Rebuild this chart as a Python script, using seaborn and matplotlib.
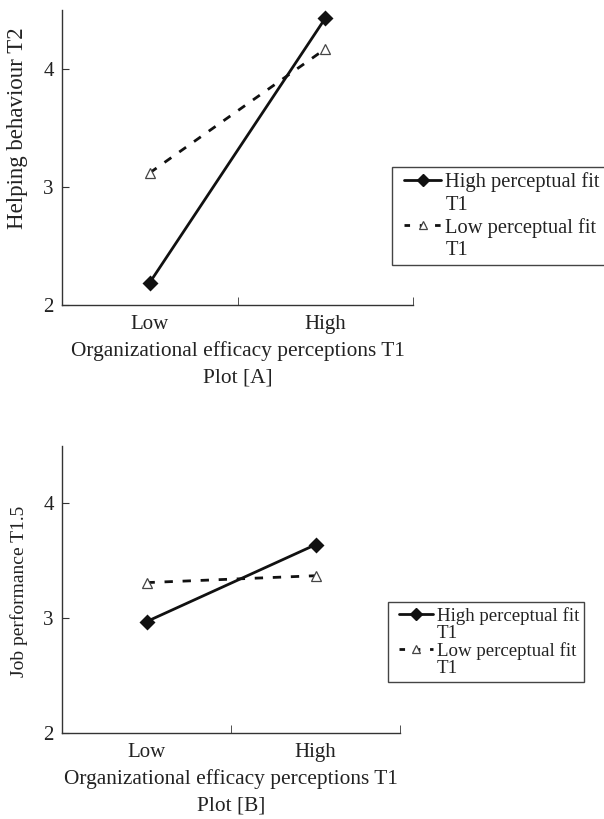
import matplotlib
matplotlib.use("Agg")
import matplotlib.pyplot as plt
from matplotlib.lines import Line2D
from matplotlib.legend_handler import HandlerLine2D
import pandas as pd
import seaborn as sns

# simple slopes
levels = ["Low", "High"]
groups = ["High perceptual fit", "Low perceptual fit"]

helping_high_fit = [2.19, 4.43]
helping_low_fit = [3.12, 4.17]
jobperf_high_fit = [2.97, 3.64]
jobperf_low_fit = [3.31, 3.37]

INK = "#111111"
TXT = "#222222"


def long_frame(high_fit, low_fit):
    rows = []
    for g, vals in zip(groups, [high_fit, low_fit]):
        for lv, v in zip(levels, vals):
            rows.append({"efficacy": lv, "fit": g, "value": v})
    return pd.DataFrame(rows)


sns.set_style("ticks")
plt.rcParams["font.family"] = ["Liberation Serif", "DejaVu Serif"]
plt.rcParams["axes.edgecolor"] = "#333333"
plt.rcParams["axes.linewidth"] = 1.0

fig = plt.figure(figsize=(6.04, 8.19), dpi=100)
ax_a = fig.add_axes([62 / 604, 1 - 305 / 819, 351 / 604, 295 / 819])
ax_b = fig.add_axes([62 / 604, 1 - 733 / 819, 338 / 604, 287 / 819])


def style_lines(ax):
    solid, dashed = ax.lines[0], ax.lines[1]
    solid.set(color=INK, linewidth=2, linestyle="-", marker="D", markersize=6,
              markerfacecolor=INK, markeredgecolor=INK)
    dashed.set(color=INK, linewidth=2, marker="^", markersize=7,
               markerfacecolor="white", markeredgecolor="#444444", markeredgewidth=0.9)
    dashed.set_dashes((3, 3.5))


def legend_handles():
    h1 = Line2D([], [], color=INK, linewidth=2, marker="D", markersize=6,
                markerfacecolor=INK, markeredgecolor=INK)
    h2 = Line2D([], [], color=INK, linewidth=2, linestyle=(0, (2, 3.5)), marker="^",
                markersize=6, markerfacecolor="white", markeredgecolor="#444444",
                markeredgewidth=0.9)
    blank = Line2D([], [], color="none")
    return [h1, blank, h2, blank], ["High perceptual fit", "T1", "Low perceptual fit", "T1"]


def draw_panel(ax, df, ylabel, ylab_size, plotname, ylab_y, legend_xy, fsize, lspace):
    sns.pointplot(data=df, x="efficacy", y="value", hue="fit", order=levels,
                  hue_order=groups, palette=[INK, INK], errorbar=None, ax=ax,
                  legend=False)
    style_lines(ax)
    ax.set_xlim(-0.5, 1.5)
    ax.set_ylim(2, 4.5)
    ax.set_yticks([2, 3, 4])
    ax.set_xticks([0, 1])
    ax.set_xticklabels(levels)
    ax.set_xticks([-0.5, 0.5, 1.5], minor=True)
    ax.tick_params(axis="x", which="major", length=0, pad=7, labelsize=15, colors=TXT)
    ax.tick_params(axis="x", which="minor", length=6, direction="in", color="#333333")
    ax.tick_params(axis="y", length=5, direction="in", pad=6, labelsize=15,
                   colors=TXT, color="#333333")
    ax.set_xlabel("Organizational efficacy perceptions T1\n" + plotname,
                  fontsize=15.4, color=TXT, labelpad=5, linespacing=1.6)
    ax.set_ylabel(ylabel, fontsize=ylab_size, color=TXT)
    ax.yaxis.set_label_coords((28 - 62) / ax.bbox.width, ylab_y)
    sns.despine(ax=ax)
    handles, labels = legend_handles()
    leg = fig.legend(handles, labels, loc="upper left",
                     bbox_to_anchor=(legend_xy[0] / 604, 1 - legend_xy[1] / 819),
                     frameon=True, fancybox=False, fontsize=fsize, handlelength=2.15,
                     handletextpad=0.2, labelspacing=lspace, borderpad=0.25,
                     borderaxespad=0, framealpha=1,
                     handler_map={Line2D: HandlerLine2D(xpad=0.35)})
    leg.get_frame().set_edgecolor("#444444")
    leg.get_frame().set_linewidth(1.0)
    for t in leg.get_texts():
        t.set_color(TXT)


draw_panel(ax_a, long_frame(helping_high_fit, helping_low_fit), "Helping behaviour T2", 16.5,
           "Plot [A]", 0.6, (392, 167), 14.8, 0.15)
draw_panel(ax_b, long_frame(jobperf_high_fit, jobperf_low_fit), "Job performance T1.5", 14,
           "Plot [B]", 0.495, (388, 602), 13.6, 0.0)

fig.savefig("out.png", dpi=100)
